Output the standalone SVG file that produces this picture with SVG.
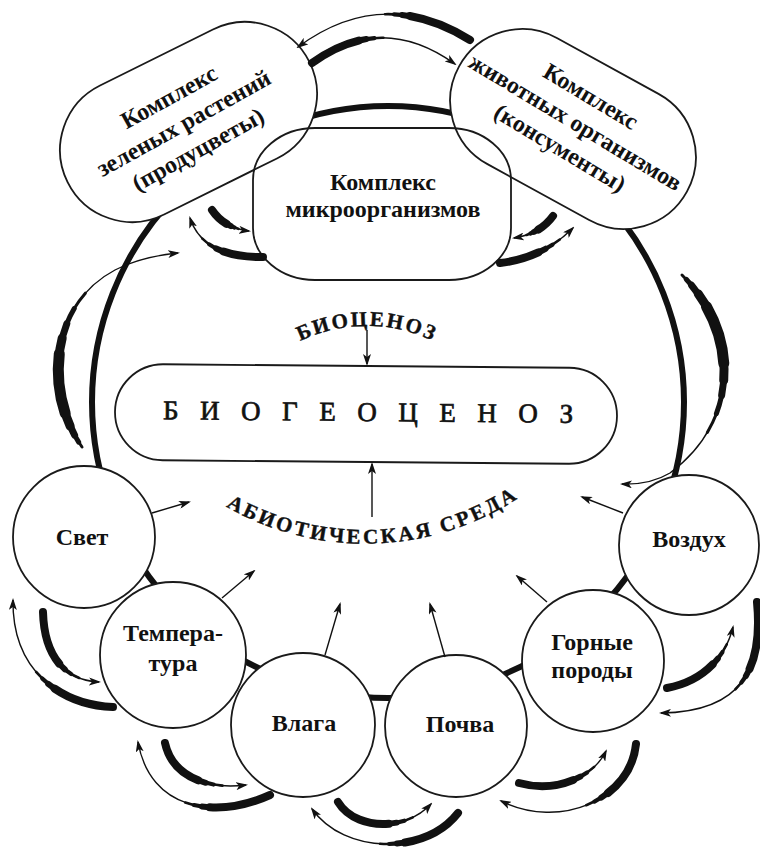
<svg xmlns="http://www.w3.org/2000/svg" width="760" height="851" viewBox="0 0 760 851">
  <defs>
    <style>
      text { font-family: "Liberation Serif", "Times New Roman", serif; fill: #111; }
      .lbl { font-size: 24px; font-weight: bold; text-anchor: middle; }
      .arc { font-size: 21px; font-weight: bold; stroke: #111; stroke-width: 0.4; }
      .big { font-size: 27px; stroke: #111; stroke-width: 0.7; }
      .node { fill: #fff; stroke: #1a1a1a; stroke-width: 1.8; }
      .open { fill: none; stroke: #1a1a1a; stroke-width: 1.8; }
      .ring { fill: none; stroke: #111; stroke-width: 6; }
      .t  { fill: none; stroke: #111; stroke-width: 1.4; marker-end: url(#ah); }
      .k1 { fill: none; stroke: #111; stroke-width: 2.6; stroke-linecap: round; }
      .k2 { fill: none; stroke: #111; stroke-width: 4.2; stroke-linecap: round; }
      .k3 { fill: none; stroke: #111; stroke-width: 6;   stroke-linecap: round; }
      .k4 { fill: none; stroke: #111; stroke-width: 8;   stroke-linecap: round; }
      .m1 { fill: none; stroke: #111; stroke-width: 3;   stroke-linecap: round; }
      .m2 { fill: none; stroke: #111; stroke-width: 5;   stroke-linecap: round; }
      .m3 { fill: none; stroke: #111; stroke-width: 7;   stroke-linecap: round; }
      .m4 { fill: none; stroke: #111; stroke-width: 9;   stroke-linecap: round; }
      .m5 { fill: none; stroke: #111; stroke-width: 11;  stroke-linecap: round; }
      .ln { fill: none; stroke: #111; stroke-width: 1.4; marker-end: url(#ah); }
    </style>
    <marker id="ah" viewBox="0 0 12 8" refX="10" refY="4" markerWidth="12" markerHeight="8" markerUnits="userSpaceOnUse" orient="auto">
      <path d="M0,0 L12,4 L0,8 L3,4 Z" fill="#111"/>
    </marker>
    <!-- curved exchange arrows: tail is thick, head is thin -->
    <path id="pA1" d="M470 40 Q382 -15 298 47"/>
    <path id="pA2" d="M312 63 Q382 12 455 64"/>
    <path id="pB1" d="M212 210 Q224 228 249 231"/>
    <path id="pB2" d="M263 257 Q203 258 190 218"/>
    <path id="pC1" d="M553 216 Q540 234 514 238"/>
    <path id="pC2" d="M500 263 Q543 258 573 228"/>
    <path id="pD1" d="M82 447 C45 395 48 305 115 270 Q140 257 178 253"/>
    <path id="pE1" d="M682 275 C738 330 742 420 670 473 Q650 485 622 484"/>
    <path id="pF1" d="M43 612 C44 650 60 680 99 682"/>
    <path id="pF2" d="M113 707 C60 705 12 670 13 600"/>
    <path id="pG1" d="M165 743 C172 775 205 790 246 785"/>
    <path id="pG2" d="M270 795 C215 820 150 810 138 742"/>
    <path id="pH1" d="M338 802 C355 830 405 832 431 804"/>
    <path id="pH2" d="M458 813 C425 855 345 855 312 809"/>
    <path id="pI1" d="M519 783 C555 793 593 778 606 751"/>
    <path id="pI2" d="M636 744 C630 800 560 830 501 801"/>
    <path id="pJ1" d="M667 688 C700 682 725 660 733 627"/>
    <path id="pJ2" d="M757 602 C763 665 745 712 661 713"/>
    <!-- baselines for the arched captions -->
    <path id="arcTop" d="M293 345 A153 153 0 0 1 441 345"/>
    <path id="arcBot" d="M215 500 A280 280 0 0 0 530 490"/>
  </defs>

  <rect width="760" height="851" fill="#fff"/>

  <!-- outer ring linking all components -->
  <circle id="ring" class="ring" cx="388" cy="402" r="296"/>

  <!-- biotic components -->
  <g id="plants">
    <rect class="node" x="-135" y="-72" width="270" height="144" rx="72" transform="translate(188.5 122) rotate(-26.4)"/>
    <g transform="translate(184 124) rotate(-29)">
      <text class="lbl" x="0" y="-23">Комплекс</text>
      <text class="lbl" x="0" y="7">зеленых растений</text>
      <text class="lbl" x="0" y="37">(продуцветы)</text>
    </g>
  </g>
  <g id="animals">
    <rect class="node" x="-130" y="-72" width="260" height="144" rx="72" transform="translate(573 129) rotate(28.8)"/>
    <g transform="translate(575 123) rotate(31)">
      <text class="lbl" x="0" y="-23">Комплекс</text>
      <text class="lbl" x="0" y="7">животных организмов</text>
      <text class="lbl" x="0" y="37">(консументы)</text>
    </g>
  </g>
  <g id="microbes">
    <rect class="open" x="253" y="128" width="258" height="152" rx="62" ry="52"/>
    <text class="lbl" x="383" y="190">Комплекс</text>
    <text class="lbl" x="383" y="217">микроорганизмов</text>
  </g>

  <!-- central unit -->
  <g id="biogeocenosis" transform="translate(366 414) rotate(0.5)">
    <rect class="node" x="-251" y="-48" width="502" height="96" rx="48"/>
    <text class="big" x="-203" y="7" textLength="410" lengthAdjust="spacing">БИОГЕОЦЕНОЗ</text>
  </g>
  <g id="biocenosis-label">
    <text class="arc" letter-spacing="2.2"><textPath href="#arcTop" startOffset="50%" text-anchor="middle">БИОЦЕНОЗ</textPath></text>
  </g>
  <g id="abiotic-label">
    <text class="arc" letter-spacing="2.8"><textPath href="#arcBot" startOffset="50%" text-anchor="middle">АБИОТИЧЕСКАЯ СРЕДА</textPath></text>
  </g>

  <!-- abiotic factors -->
  <g id="light">
    <circle class="node" cx="84" cy="537" r="71"/>
    <text class="lbl" x="82" y="545">Свет</text>
  </g>
  <g id="temperature">
    <circle class="node" cx="173" cy="655" r="73"/>
    <text class="lbl" x="173" y="641">Темпера-</text>
    <text class="lbl" x="173" y="671">тура</text>
  </g>
  <g id="moisture">
    <circle class="node" cx="303" cy="725" r="72"/>
    <text class="lbl" x="304" y="731">Влага</text>
  </g>
  <g id="soil">
    <circle class="node" cx="456" cy="726" r="71"/>
    <text class="lbl" x="460" y="732">Почва</text>
  </g>
  <g id="rocks">
    <circle class="node" cx="593" cy="661" r="71"/>
    <text class="lbl" x="592" y="650">Горные</text>
    <text class="lbl" x="592" y="678">породы</text>
  </g>
  <g id="air">
    <circle class="node" cx="689" cy="545" r="70"/>
    <text class="lbl" x="689" y="547">Воздух</text>
  </g>

  <g id="connectors">
    <!-- exchange arrows: thin shaft with head, plus stacked tail layers -->
    <use href="#pA1" class="t"/><use href="#pA1" class="k1" stroke-dasharray="90 1000"/><use href="#pA1" class="k2" stroke-dasharray="81 1000"/><use href="#pA1" class="k3" stroke-dasharray="73 1000"/><use href="#pA1" class="k4" stroke-dasharray="65 1000"/>
    <use href="#pA2" class="t"/><use href="#pA2" class="k1" stroke-dasharray="77 1000"/><use href="#pA2" class="k2" stroke-dasharray="68 1000"/><use href="#pA2" class="k3" stroke-dasharray="60 1000"/><use href="#pA2" class="k4" stroke-dasharray="52 1000"/>
    <use href="#pB1" class="t"/><use href="#pB1" class="k1" stroke-dasharray="33 1000"/><use href="#pB1" class="k2" stroke-dasharray="29 1000"/><use href="#pB1" class="k3" stroke-dasharray="25 1000"/><use href="#pB1" class="k4" stroke-dasharray="20 1000"/>
    <use href="#pB2" class="t"/><use href="#pB2" class="k1" stroke-dasharray="65 1000"/><use href="#pB2" class="k2" stroke-dasharray="56 1000"/><use href="#pB2" class="k3" stroke-dasharray="48 1000"/><use href="#pB2" class="k4" stroke-dasharray="40 1000"/>
    <use href="#pC1" class="t"/><use href="#pC1" class="k1" stroke-dasharray="33 1000"/><use href="#pC1" class="k2" stroke-dasharray="29 1000"/><use href="#pC1" class="k3" stroke-dasharray="25 1000"/><use href="#pC1" class="k4" stroke-dasharray="20 1000"/>
    <use href="#pC2" class="t"/><use href="#pC2" class="k1" stroke-dasharray="65 1000"/><use href="#pC2" class="k2" stroke-dasharray="56 1000"/><use href="#pC2" class="k3" stroke-dasharray="48 1000"/><use href="#pC2" class="k4" stroke-dasharray="40 1000"/>
    <use href="#pD1" class="t"/><use href="#pD1" class="m1" stroke-dasharray="165 1000"/><use href="#pD1" class="m2" stroke-dasharray="140 1000" stroke-dashoffset="-6"/><use href="#pD1" class="m3" stroke-dasharray="115 1000" stroke-dashoffset="-14"/><use href="#pD1" class="m4" stroke-dasharray="90 1000" stroke-dashoffset="-24"/><use href="#pD1" class="m5" stroke-dasharray="60 1000" stroke-dashoffset="-38"/>
    <use href="#pE1" class="t"/><use href="#pE1" class="m1" stroke-dasharray="172 1000"/><use href="#pE1" class="m2" stroke-dasharray="145 1000" stroke-dashoffset="-6"/><use href="#pE1" class="m3" stroke-dasharray="118 1000" stroke-dashoffset="-14"/><use href="#pE1" class="m4" stroke-dasharray="92 1000" stroke-dashoffset="-25"/><use href="#pE1" class="m5" stroke-dasharray="60 1000" stroke-dashoffset="-40"/>
    <use href="#pF1" class="t"/><use href="#pF1" class="k1" stroke-dasharray="80 1000"/><use href="#pF1" class="k2" stroke-dasharray="71 1000"/><use href="#pF1" class="k3" stroke-dasharray="63 1000"/><use href="#pF1" class="k4" stroke-dasharray="55 1000"/>
    <use href="#pF2" class="t"/><use href="#pF2" class="k1" stroke-dasharray="87 1000"/><use href="#pF2" class="k2" stroke-dasharray="78 1000"/><use href="#pF2" class="k3" stroke-dasharray="70 1000"/><use href="#pF2" class="k4" stroke-dasharray="62 1000"/>
    <use href="#pG1" class="t"/><use href="#pG1" class="k1" stroke-dasharray="77 1000"/><use href="#pG1" class="k2" stroke-dasharray="68 1000"/><use href="#pG1" class="k3" stroke-dasharray="60 1000"/><use href="#pG1" class="k4" stroke-dasharray="52 1000"/>
    <use href="#pG2" class="t"/><use href="#pG2" class="k1" stroke-dasharray="87 1000"/><use href="#pG2" class="k2" stroke-dasharray="78 1000"/><use href="#pG2" class="k3" stroke-dasharray="70 1000"/><use href="#pG2" class="k4" stroke-dasharray="62 1000"/>
    <use href="#pH1" class="t"/><use href="#pH1" class="k1" stroke-dasharray="83 1000"/><use href="#pH1" class="k2" stroke-dasharray="74 1000"/><use href="#pH1" class="k3" stroke-dasharray="66 1000"/><use href="#pH1" class="k4" stroke-dasharray="58 1000"/>
    <use href="#pH2" class="t"/><use href="#pH2" class="k1" stroke-dasharray="87 1000"/><use href="#pH2" class="k2" stroke-dasharray="78 1000"/><use href="#pH2" class="k3" stroke-dasharray="70 1000"/><use href="#pH2" class="k4" stroke-dasharray="62 1000"/>
    <use href="#pI1" class="t"/><use href="#pI1" class="k1" stroke-dasharray="80 1000"/><use href="#pI1" class="k2" stroke-dasharray="71 1000"/><use href="#pI1" class="k3" stroke-dasharray="63 1000"/><use href="#pI1" class="k4" stroke-dasharray="55 1000"/>
    <use href="#pI2" class="t"/><use href="#pI2" class="k1" stroke-dasharray="83 1000"/><use href="#pI2" class="k2" stroke-dasharray="74 1000"/><use href="#pI2" class="k3" stroke-dasharray="66 1000"/><use href="#pI2" class="k4" stroke-dasharray="58 1000"/>
    <use href="#pJ1" class="t"/><use href="#pJ1" class="k1" stroke-dasharray="77 1000"/><use href="#pJ1" class="k2" stroke-dasharray="68 1000"/><use href="#pJ1" class="k3" stroke-dasharray="60 1000"/><use href="#pJ1" class="k4" stroke-dasharray="52 1000"/>
    <use href="#pJ2" class="t"/><use href="#pJ2" class="k1" stroke-dasharray="93 1000"/><use href="#pJ2" class="k2" stroke-dasharray="84 1000"/><use href="#pJ2" class="k3" stroke-dasharray="76 1000"/><use href="#pJ2" class="k4" stroke-dasharray="68 1000"/>
    <!-- factor influences toward the centre -->
    <path class="ln" d="M152 513 L189 502"/>
    <path class="ln" d="M222 598 L254 571"/>
    <path class="ln" d="M325 655 L340 604"/>
    <path class="ln" d="M445 657 L430 604"/>
    <path class="ln" d="M547 602 L517 576"/>
    <path class="ln" d="M623 513 L582 497"/>
    <path class="ln" d="M367 330 L367 364"/>
    <path class="ln" d="M372 517 L372 464"/>
  </g>
</svg>
